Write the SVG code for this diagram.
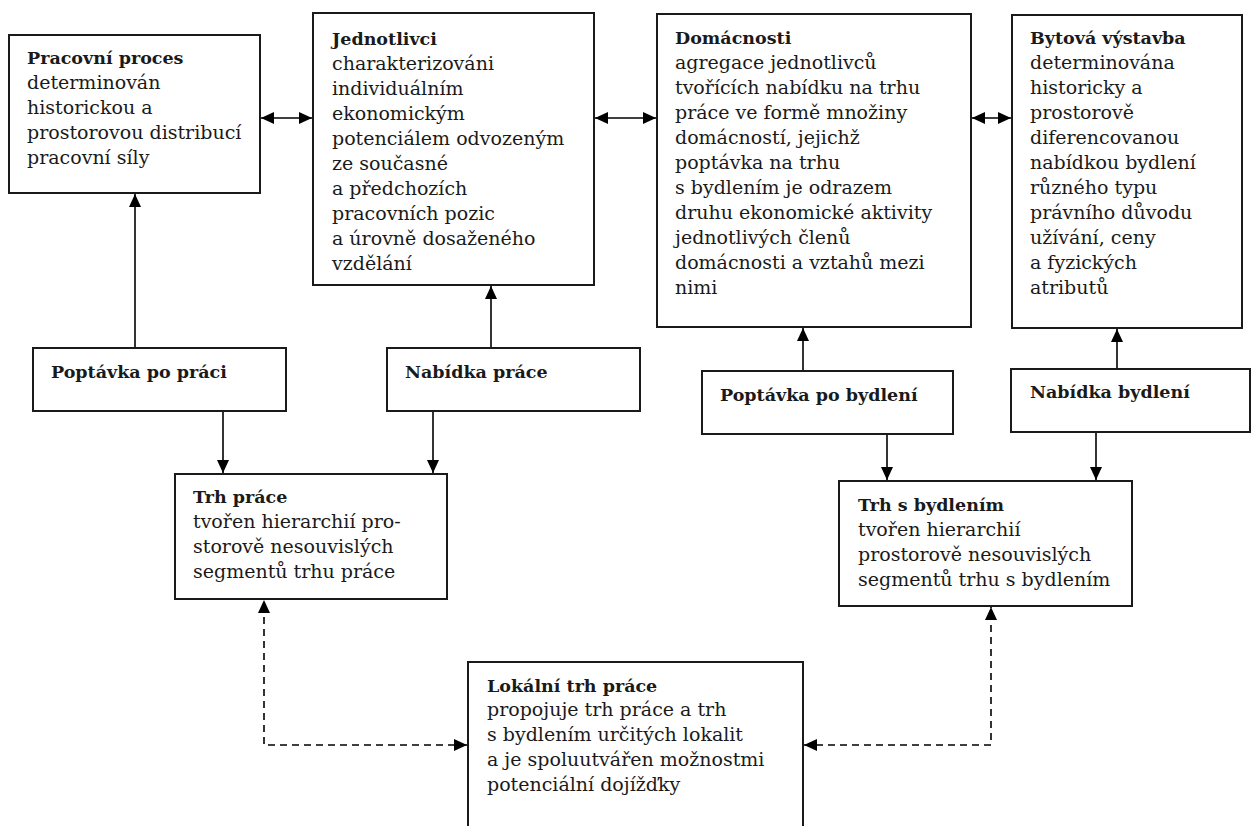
<svg xmlns="http://www.w3.org/2000/svg" width="1252" height="826" viewBox="0 0 1252 826">
<defs>
<style>
.box{fill:#fff;stroke:#1a1a1a;stroke-width:2}
.t{font-family:"DejaVu Serif","Liberation Serif",serif;font-size:19px;fill:#1a1a1a}
.b{font-weight:bold;font-size:17.5px}
.ln{fill:none;stroke:#000;stroke-width:1.6}
.dash{stroke-dasharray:7 5}
</style>
<marker id="ah" viewBox="0 0 13 12" refX="13" refY="6" markerWidth="13" markerHeight="12" markerUnits="userSpaceOnUse" orient="auto-start-reverse">
<path d="M0,0 L13,6 L0,12 z" fill="#000"/>
</marker>
</defs>
<rect width="1252" height="826" fill="#fff"/>

<g id="connectors">
<line class="ln" x1="261" y1="118" x2="312" y2="118" marker-start="url(#ah)" marker-end="url(#ah)"/>
<line class="ln" x1="595" y1="118" x2="656" y2="118" marker-start="url(#ah)" marker-end="url(#ah)"/>
<line class="ln" x1="972" y1="118" x2="1011" y2="118" marker-start="url(#ah)" marker-end="url(#ah)"/>
<line class="ln" x1="135" y1="348" x2="135" y2="194" marker-end="url(#ah)"/>
<line class="ln" x1="491" y1="348" x2="491" y2="286" marker-end="url(#ah)"/>
<line class="ln" x1="803" y1="371" x2="803" y2="328" marker-end="url(#ah)"/>
<line class="ln" x1="1117" y1="369" x2="1117" y2="329" marker-end="url(#ah)"/>
<line class="ln" x1="223" y1="411" x2="223" y2="473" marker-end="url(#ah)"/>
<line class="ln" x1="433" y1="411" x2="433" y2="473" marker-end="url(#ah)"/>
<line class="ln" x1="887" y1="434" x2="887" y2="480" marker-end="url(#ah)"/>
<line class="ln" x1="1096" y1="432" x2="1096" y2="480" marker-end="url(#ah)"/>
<path class="ln dash" d="M467,745 H264 V600" marker-start="url(#ah)" marker-end="url(#ah)"/>
<path class="ln dash" d="M804,745 H991 V607" marker-start="url(#ah)" marker-end="url(#ah)"/>
</g>

<g id="pracovni-proces">
<rect class="box" x="9" y="35" width="251" height="158"/>
<text class="t"><tspan class="b" x="27" y="64">Pracovní proces</tspan><tspan x="27" y="89">determinován</tspan><tspan x="27" y="114">historickou a</tspan><tspan x="27" y="139">prostorovou distribucí</tspan><tspan x="27" y="164">pracovní síly</tspan></text>
</g>

<g id="jednotlivci">
<rect class="box" x="313" y="13" width="281" height="272"/>
<text class="t"><tspan class="b" x="332" y="45">Jednotlivci</tspan><tspan x="332" y="70">charakterizováni</tspan><tspan x="332" y="95">individuálním</tspan><tspan x="332" y="120">ekonomickým</tspan><tspan x="332" y="145">potenciálem odvozeným</tspan><tspan x="332" y="170">ze současné</tspan><tspan x="332" y="195">a předchozích</tspan><tspan x="332" y="220">pracovních pozic</tspan><tspan x="332" y="245">a úrovně dosaženého</tspan><tspan x="332" y="270">vzdělání</tspan></text>
</g>

<g id="domacnosti">
<rect class="box" x="657" y="14" width="314" height="313"/>
<text class="t"><tspan class="b" x="675" y="44">Domácnosti</tspan><tspan x="675" y="69">agregace jednotlivců</tspan><tspan x="675" y="94">tvořících nabídku na trhu</tspan><tspan x="675" y="119">práce ve formě množiny</tspan><tspan x="675" y="144">domácností, jejichž</tspan><tspan x="675" y="169">poptávka na trhu</tspan><tspan x="675" y="194">s bydlením je odrazem</tspan><tspan x="675" y="219">druhu ekonomické aktivity</tspan><tspan x="675" y="244">jednotlivých členů</tspan><tspan x="675" y="269">domácnosti a vztahů mezi</tspan><tspan x="675" y="294">nimi</tspan></text>
</g>

<g id="bytova-vystavba">
<rect class="box" x="1012" y="15" width="230" height="313"/>
<text class="t"><tspan class="b" x="1030" y="44">Bytová výstavba</tspan><tspan x="1030" y="69">determinována</tspan><tspan x="1030" y="94">historicky a</tspan><tspan x="1030" y="119">prostorově</tspan><tspan x="1030" y="144">diferencovanou</tspan><tspan x="1030" y="169">nabídkou bydlení</tspan><tspan x="1030" y="194">různého typu</tspan><tspan x="1030" y="219">právního důvodu</tspan><tspan x="1030" y="244">užívání, ceny</tspan><tspan x="1030" y="269">a fyzických</tspan><tspan x="1030" y="294">atributů</tspan></text>
</g>

<g id="poptavka-po-praci">
<rect class="box" x="33" y="348" width="253" height="63"/>
<text class="t b" x="51" y="378">Poptávka po práci</text>
</g>

<g id="nabidka-prace">
<rect class="box" x="387" y="348" width="253" height="63"/>
<text class="t b" x="405" y="378">Nabídka práce</text>
</g>

<g id="poptavka-po-bydleni">
<rect class="box" x="702" y="371" width="251" height="63"/>
<text class="t b" x="720" y="401">Poptávka po bydlení</text>
</g>

<g id="nabidka-bydleni">
<rect class="box" x="1011" y="369" width="239" height="63"/>
<text class="t b" x="1030" y="398">Nabídka bydlení</text>
</g>

<g id="trh-prace">
<rect class="box" x="175" y="474" width="272" height="125"/>
<text class="t"><tspan class="b" x="193" y="503">Trh práce</tspan><tspan x="193" y="528">tvořen hierarchií pro-</tspan><tspan x="193" y="553">storově nesouvislých</tspan><tspan x="193" y="578">segmentů trhu práce</tspan></text>
</g>

<g id="trh-s-bydlenim">
<rect class="box" x="839" y="481" width="293" height="125"/>
<text class="t"><tspan class="b" x="858" y="511">Trh s bydlením</tspan><tspan x="858" y="536">tvořen hierarchií</tspan><tspan x="858" y="561">prostorově nesouvislých</tspan><tspan x="858" y="586">segmentů trhu s bydlením</tspan></text>
</g>

<g id="lokalni-trh-prace">
<rect class="box" x="468" y="662" width="335" height="180"/>
<text class="t"><tspan class="b" x="487" y="692">Lokální trh práce</tspan><tspan x="487" y="716">propojuje trh práce a trh</tspan><tspan x="487" y="741">s bydlením určitých lokalit</tspan><tspan x="487" y="766">a je spoluutvářen možnostmi</tspan><tspan x="487" y="791">potenciální dojížďky</tspan></text>
</g>
</svg>
